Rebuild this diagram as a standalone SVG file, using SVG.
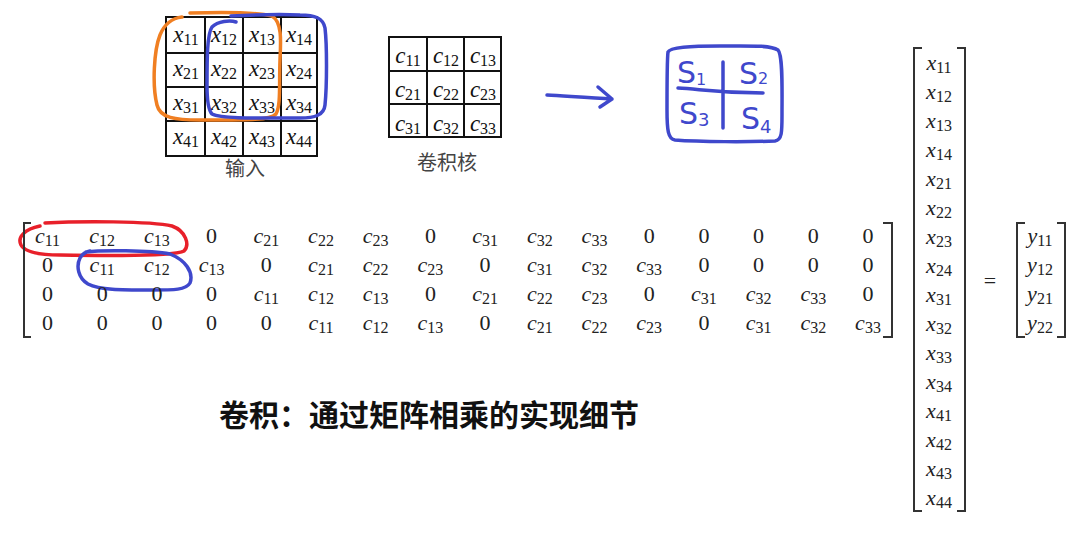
<svg xmlns="http://www.w3.org/2000/svg" width="1092" height="545" viewBox="0 0 1092 545">
<style>
.grid{fill:none;stroke:#111;stroke-width:2}
.gt{font-family:"Liberation Serif",serif;font-size:23px;fill:#111;text-anchor:middle}
.m{font-family:"Liberation Serif",serif;font-size:22px;fill:#222;text-anchor:middle}
.i{font-style:italic}
.s{font-size:16px}
.gs{font-size:16px}
.br{fill:none;stroke:#333;stroke-width:2}
.cn{font-family:"Noto Sans CJK SC","Noto Sans CJK JP",sans-serif;font-size:20px;fill:#444;text-anchor:middle}
.ink{fill:none;stroke-width:3.5;stroke-linecap:round;stroke-linejoin:round}
.bl{stroke:#3F48CC}
.sk{font-family:"DejaVu Sans","Liberation Sans",sans-serif;fill:#3F48CC}
</style>
<rect width="1092" height="545" fill="#fff"/>

<g id="input-grid">
<rect class="grid" x="166" y="17" width="151" height="139"/>
<path class="grid" d="M205,17V156M243,17V156M281,17V156M166,53H317M166,87H317M166,121H317"/>
<text class="gt" x="186" y="42"><tspan class="i">x</tspan><tspan class="gs" dy="3">11</tspan></text>
<text class="gt" x="224" y="42"><tspan class="i">x</tspan><tspan class="gs" dy="3">12</tspan></text>
<text class="gt" x="262" y="42"><tspan class="i">x</tspan><tspan class="gs" dy="3">13</tspan></text>
<text class="gt" x="299" y="42"><tspan class="i">x</tspan><tspan class="gs" dy="3">14</tspan></text>
<text class="gt" x="186" y="76"><tspan class="i">x</tspan><tspan class="gs" dy="3">21</tspan></text>
<text class="gt" x="224" y="76"><tspan class="i">x</tspan><tspan class="gs" dy="3">22</tspan></text>
<text class="gt" x="262" y="76"><tspan class="i">x</tspan><tspan class="gs" dy="3">23</tspan></text>
<text class="gt" x="299" y="76"><tspan class="i">x</tspan><tspan class="gs" dy="3">24</tspan></text>
<text class="gt" x="186" y="110"><tspan class="i">x</tspan><tspan class="gs" dy="3">31</tspan></text>
<text class="gt" x="224" y="110"><tspan class="i">x</tspan><tspan class="gs" dy="3">32</tspan></text>
<text class="gt" x="262" y="110"><tspan class="i">x</tspan><tspan class="gs" dy="3">33</tspan></text>
<text class="gt" x="299" y="110"><tspan class="i">x</tspan><tspan class="gs" dy="3">34</tspan></text>
<text class="gt" x="186" y="144"><tspan class="i">x</tspan><tspan class="gs" dy="3">41</tspan></text>
<text class="gt" x="224" y="144"><tspan class="i">x</tspan><tspan class="gs" dy="3">42</tspan></text>
<text class="gt" x="262" y="144"><tspan class="i">x</tspan><tspan class="gs" dy="3">43</tspan></text>
<text class="gt" x="299" y="144"><tspan class="i">x</tspan><tspan class="gs" dy="3">44</tspan></text>
<text class="cn" x="245" y="176">输入</text>
</g>

<g id="kernel-grid">
<rect class="grid" x="389" y="37" width="112" height="100"/>
<path class="grid" d="M427,37V137M464,37V137M389,71H501M389,104H501"/>
<text class="gt" x="408" y="63"><tspan class="i">c</tspan><tspan class="gs" dy="3">11</tspan></text>
<text class="gt" x="446" y="63"><tspan class="i">c</tspan><tspan class="gs" dy="3">12</tspan></text>
<text class="gt" x="483" y="63"><tspan class="i">c</tspan><tspan class="gs" dy="3">13</tspan></text>
<text class="gt" x="408" y="97"><tspan class="i">c</tspan><tspan class="gs" dy="3">21</tspan></text>
<text class="gt" x="446" y="97"><tspan class="i">c</tspan><tspan class="gs" dy="3">22</tspan></text>
<text class="gt" x="483" y="97"><tspan class="i">c</tspan><tspan class="gs" dy="3">23</tspan></text>
<text class="gt" x="408" y="131"><tspan class="i">c</tspan><tspan class="gs" dy="3">31</tspan></text>
<text class="gt" x="446" y="131"><tspan class="i">c</tspan><tspan class="gs" dy="3">32</tspan></text>
<text class="gt" x="483" y="131"><tspan class="i">c</tspan><tspan class="gs" dy="3">33</tspan></text>
<text class="cn" x="447" y="170">卷积核</text>
</g>

<g id="output-sketch">
<path class="ink bl" d="M668,52 C670,47 690,46 720,46 C750,46 770,45 778,50 C783,55 782,90 782,115 C782,132 782,140 775,141 C750,142 700,142 675,140 C668,139 667,130 667,110 C667,85 667,60 668,52 Z"/>
<path class="ink bl" d="M723,62 L723,128 M678,88 C700,89 715,93 763,93"/>
<text class="sk" x="677" y="83" font-size="30">S<tspan font-size="16" dy="2">1</tspan></text>
<text class="sk" x="739" y="84" font-size="30">S<tspan font-size="16" dy="0">2</tspan></text>
<text class="sk" x="679" y="124" font-size="30">S<tspan font-size="18" dy="2">3</tspan></text>
<text class="sk" x="741" y="129" font-size="30">S<tspan font-size="18" dy="4">4</tspan></text>
</g>

<g id="connectors">
<path class="ink bl" d="M547,95 C565,96 590,98 612,99 M598,87 L612,99 L600,107"/>
</g>

<g id="annotations">
<path class="ink" stroke="#F07F22" d="M190,13 C220,12 255,12 272,16 C282,22 281,40 280,60 C279,85 281,105 276,114 C270,121 240,120 200,120 C175,120 160,118 157,105 C152,85 154,50 160,35 C164,25 172,18 182,17"/>
<path class="ink bl" d="M236,22 C230,20 218,21 212,27 C207,34 207,60 207,85 C207,100 208,110 212,114 C222,119 260,118 300,118 C315,118 324,115 325,105 C327,85 327,45 325,28 C323,18 315,15 300,15 C280,14 250,15 231,16"/>
<path class="ink" stroke="#E8202A" d="M45,223 C80,221 150,221 172,226 C186,231 190,245 184,251 C176,256 120,256 60,255 C40,255 25,252 21,245 C17,237 25,229 40,226"/>
<path class="ink bl" d="M86,252 C100,250 150,250 170,254 C185,260 194,272 190,283 C186,290 175,290 150,290 C120,290 100,290 88,284 C78,278 76,266 80,258 C82,254 86,252 90,251"/>
</g>

<g id="conv-matrix">
<path class="br" d="M31,223H24V337H31M883,223H892V337H883"/>
<!-- row 1 -->
<text class="m" x="47.5" y="243"><tspan class="i">c</tspan><tspan class="s" dy="3">11</tspan></text>
<text class="m" x="102.2" y="243"><tspan class="i">c</tspan><tspan class="s" dy="3">12</tspan></text>
<text class="m" x="156.9" y="243"><tspan class="i">c</tspan><tspan class="s" dy="3">13</tspan></text>
<text class="m" x="211.6" y="243">0</text>
<text class="m" x="266.3" y="243"><tspan class="i">c</tspan><tspan class="s" dy="3">21</tspan></text>
<text class="m" x="321" y="243"><tspan class="i">c</tspan><tspan class="s" dy="3">22</tspan></text>
<text class="m" x="375.7" y="243"><tspan class="i">c</tspan><tspan class="s" dy="3">23</tspan></text>
<text class="m" x="430.4" y="243">0</text>
<text class="m" x="485.1" y="243"><tspan class="i">c</tspan><tspan class="s" dy="3">31</tspan></text>
<text class="m" x="539.8" y="243"><tspan class="i">c</tspan><tspan class="s" dy="3">32</tspan></text>
<text class="m" x="594.5" y="243"><tspan class="i">c</tspan><tspan class="s" dy="3">33</tspan></text>
<text class="m" x="649.2" y="243">0</text>
<text class="m" x="703.9" y="243">0</text>
<text class="m" x="758.6" y="243">0</text>
<text class="m" x="813.3" y="243">0</text>
<text class="m" x="868" y="243">0</text>
<!-- row 2 -->
<text class="m" x="47.5" y="272">0</text>
<text class="m" x="102.2" y="272"><tspan class="i">c</tspan><tspan class="s" dy="3">11</tspan></text>
<text class="m" x="156.9" y="272"><tspan class="i">c</tspan><tspan class="s" dy="3">12</tspan></text>
<text class="m" x="211.6" y="272"><tspan class="i">c</tspan><tspan class="s" dy="3">13</tspan></text>
<text class="m" x="266.3" y="272">0</text>
<text class="m" x="321" y="272"><tspan class="i">c</tspan><tspan class="s" dy="3">21</tspan></text>
<text class="m" x="375.7" y="272"><tspan class="i">c</tspan><tspan class="s" dy="3">22</tspan></text>
<text class="m" x="430.4" y="272"><tspan class="i">c</tspan><tspan class="s" dy="3">23</tspan></text>
<text class="m" x="485.1" y="272">0</text>
<text class="m" x="539.8" y="272"><tspan class="i">c</tspan><tspan class="s" dy="3">31</tspan></text>
<text class="m" x="594.5" y="272"><tspan class="i">c</tspan><tspan class="s" dy="3">32</tspan></text>
<text class="m" x="649.2" y="272"><tspan class="i">c</tspan><tspan class="s" dy="3">33</tspan></text>
<text class="m" x="703.9" y="272">0</text>
<text class="m" x="758.6" y="272">0</text>
<text class="m" x="813.3" y="272">0</text>
<text class="m" x="868" y="272">0</text>
<!-- row 3 -->
<text class="m" x="47.5" y="301">0</text>
<text class="m" x="102.2" y="301">0</text>
<text class="m" x="156.9" y="301">0</text>
<text class="m" x="211.6" y="301">0</text>
<text class="m" x="266.3" y="301"><tspan class="i">c</tspan><tspan class="s" dy="3">11</tspan></text>
<text class="m" x="321" y="301"><tspan class="i">c</tspan><tspan class="s" dy="3">12</tspan></text>
<text class="m" x="375.7" y="301"><tspan class="i">c</tspan><tspan class="s" dy="3">13</tspan></text>
<text class="m" x="430.4" y="301">0</text>
<text class="m" x="485.1" y="301"><tspan class="i">c</tspan><tspan class="s" dy="3">21</tspan></text>
<text class="m" x="539.8" y="301"><tspan class="i">c</tspan><tspan class="s" dy="3">22</tspan></text>
<text class="m" x="594.5" y="301"><tspan class="i">c</tspan><tspan class="s" dy="3">23</tspan></text>
<text class="m" x="649.2" y="301">0</text>
<text class="m" x="703.9" y="301"><tspan class="i">c</tspan><tspan class="s" dy="3">31</tspan></text>
<text class="m" x="758.6" y="301"><tspan class="i">c</tspan><tspan class="s" dy="3">32</tspan></text>
<text class="m" x="813.3" y="301"><tspan class="i">c</tspan><tspan class="s" dy="3">33</tspan></text>
<text class="m" x="868" y="301">0</text>
<!-- row 4 -->
<text class="m" x="47.5" y="330">0</text>
<text class="m" x="102.2" y="330">0</text>
<text class="m" x="156.9" y="330">0</text>
<text class="m" x="211.6" y="330">0</text>
<text class="m" x="266.3" y="330">0</text>
<text class="m" x="321" y="330"><tspan class="i">c</tspan><tspan class="s" dy="3">11</tspan></text>
<text class="m" x="375.7" y="330"><tspan class="i">c</tspan><tspan class="s" dy="3">12</tspan></text>
<text class="m" x="430.4" y="330"><tspan class="i">c</tspan><tspan class="s" dy="3">13</tspan></text>
<text class="m" x="485.1" y="330">0</text>
<text class="m" x="539.8" y="330"><tspan class="i">c</tspan><tspan class="s" dy="3">21</tspan></text>
<text class="m" x="594.5" y="330"><tspan class="i">c</tspan><tspan class="s" dy="3">22</tspan></text>
<text class="m" x="649.2" y="330"><tspan class="i">c</tspan><tspan class="s" dy="3">23</tspan></text>
<text class="m" x="703.9" y="330">0</text>
<text class="m" x="758.6" y="330"><tspan class="i">c</tspan><tspan class="s" dy="3">31</tspan></text>
<text class="m" x="813.3" y="330"><tspan class="i">c</tspan><tspan class="s" dy="3">32</tspan></text>
<text class="m" x="868" y="330"><tspan class="i">c</tspan><tspan class="s" dy="3">33</tspan></text>
</g>

<g id="x-vector">
<path class="br" d="M922,48H914V511H922M957,48H965V511H957"/>
<text class="m" x="939" y="70"><tspan class="i">x</tspan><tspan class="s" dy="3">11</tspan></text>
<text class="m" x="939" y="99"><tspan class="i">x</tspan><tspan class="s" dy="3">12</tspan></text>
<text class="m" x="939" y="128"><tspan class="i">x</tspan><tspan class="s" dy="3">13</tspan></text>
<text class="m" x="939" y="157"><tspan class="i">x</tspan><tspan class="s" dy="3">14</tspan></text>
<text class="m" x="939" y="186"><tspan class="i">x</tspan><tspan class="s" dy="3">21</tspan></text>
<text class="m" x="939" y="215"><tspan class="i">x</tspan><tspan class="s" dy="3">22</tspan></text>
<text class="m" x="939" y="244"><tspan class="i">x</tspan><tspan class="s" dy="3">23</tspan></text>
<text class="m" x="939" y="273"><tspan class="i">x</tspan><tspan class="s" dy="3">24</tspan></text>
<text class="m" x="939" y="302"><tspan class="i">x</tspan><tspan class="s" dy="3">31</tspan></text>
<text class="m" x="939" y="331"><tspan class="i">x</tspan><tspan class="s" dy="3">32</tspan></text>
<text class="m" x="939" y="360"><tspan class="i">x</tspan><tspan class="s" dy="3">33</tspan></text>
<text class="m" x="939" y="389"><tspan class="i">x</tspan><tspan class="s" dy="3">34</tspan></text>
<text class="m" x="939" y="418"><tspan class="i">x</tspan><tspan class="s" dy="3">41</tspan></text>
<text class="m" x="939" y="447"><tspan class="i">x</tspan><tspan class="s" dy="3">42</tspan></text>
<text class="m" x="939" y="476"><tspan class="i">x</tspan><tspan class="s" dy="3">43</tspan></text>
<text class="m" x="939" y="505"><tspan class="i">x</tspan><tspan class="s" dy="3">44</tspan></text>
</g>

<g id="equals">
<text class="m" x="990" y="288">=</text>
</g>

<g id="y-vector">
<path class="br" d="M1025,223H1017V337H1025M1057,223H1065V337H1057"/>
<text class="m" x="1040" y="243"><tspan class="i">y</tspan><tspan class="s" dy="3">11</tspan></text>
<text class="m" x="1040" y="272"><tspan class="i">y</tspan><tspan class="s" dy="3">12</tspan></text>
<text class="m" x="1040" y="301"><tspan class="i">y</tspan><tspan class="s" dy="3">21</tspan></text>
<text class="m" x="1040" y="330"><tspan class="i">y</tspan><tspan class="s" dy="3">22</tspan></text>
</g>

<g id="title">
<text x="219" y="426" font-family="Noto Sans CJK SC,Noto Sans CJK JP,sans-serif" font-weight="bold" font-size="30" fill="#111">卷积：通过矩阵相乘的实现细节</text>
</g>
</svg>
